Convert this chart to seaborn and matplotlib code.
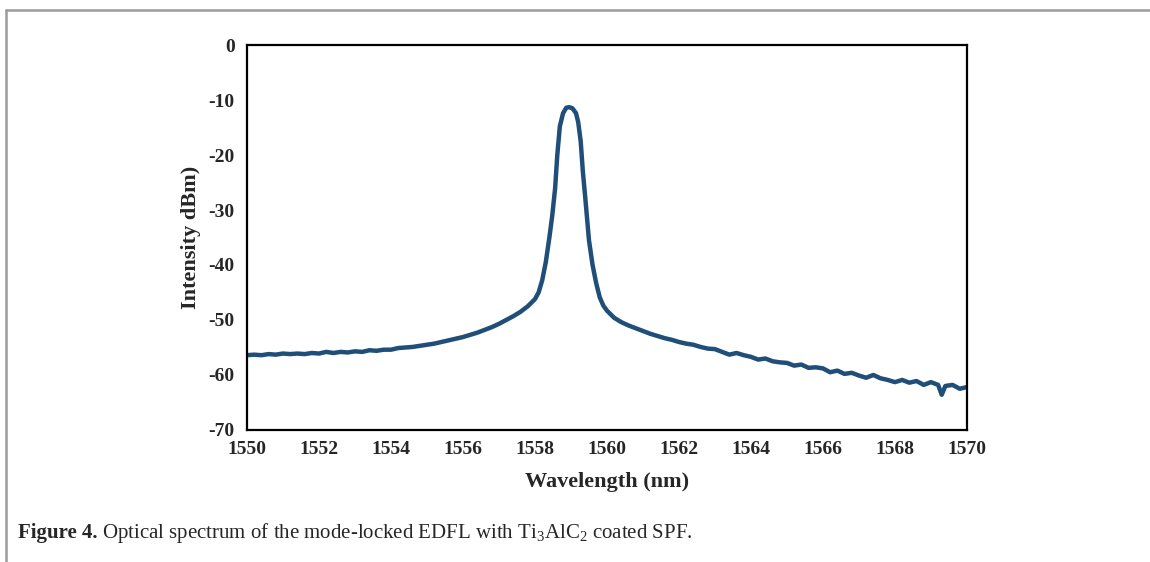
import numpy as np
import pandas as pd
import matplotlib
matplotlib.use("Agg")
import matplotlib.pyplot as plt
from matplotlib.lines import Line2D
import seaborn as sns

# spectrum (nm, dBm)
wavelength = [
    1550.0, 1550.2, 1550.4, 1550.6, 1550.8, 1551.0, 1551.2, 1551.4, 1551.6, 1551.8,
    1552.0, 1552.2, 1552.4, 1552.6, 1552.8, 1553.0, 1553.2, 1553.4, 1553.6, 1553.8,
    1554.0, 1554.2, 1554.4, 1554.6, 1554.8, 1555.0, 1555.2, 1555.4, 1555.6, 1555.8,
    1556.0, 1556.2, 1556.4, 1556.6, 1556.8, 1557.0, 1557.2, 1557.4, 1557.6, 1557.8,
    1558.0, 1558.1, 1558.2, 1558.3, 1558.4, 1558.48, 1558.56, 1558.62, 1558.69, 1558.78,
    1558.87, 1558.95, 1559.04, 1559.14, 1559.2, 1559.27, 1559.33, 1559.4, 1559.5, 1559.6,
    1559.7, 1559.8, 1559.9,
    1560.0, 1560.2, 1560.4, 1560.6, 1560.8, 1561.0, 1561.2, 1561.4, 1561.6, 1561.8,
    1562.0, 1562.2, 1562.4, 1562.6, 1562.8, 1563.0, 1563.2, 1563.4, 1563.6, 1563.8,
    1564.0, 1564.2, 1564.4, 1564.6, 1564.8, 1565.0, 1565.2, 1565.4, 1565.6, 1565.8,
    1566.0, 1566.2, 1566.4, 1566.6, 1566.8, 1567.0, 1567.2, 1567.4, 1567.6, 1567.8,
    1568.0, 1568.2, 1568.4, 1568.6, 1568.8, 1569.0, 1569.2, 1569.3, 1569.4, 1569.6,
    1569.8, 1570.0,
]
intensity = [
    -56.4, -56.3, -56.4, -56.2, -56.3, -56.1, -56.2, -56.1, -56.2, -56.0,
    -56.1, -55.8, -56.0, -55.8, -55.9, -55.7, -55.8, -55.5, -55.6, -55.4,
    -55.4, -55.1, -55.0, -54.9, -54.7, -54.5, -54.3, -54.0, -53.7, -53.4,
    -53.1, -52.7, -52.3, -51.8, -51.3, -50.7, -50.0, -49.3, -48.5, -47.5,
    -46.2, -45.0, -42.8, -39.5, -35.0, -31.0, -26.0, -20.0, -14.8, -12.4,
    -11.4, -11.3, -11.5, -12.4, -14.0, -17.5, -23.0, -28.0, -35.5, -40.0,
    -43.3, -45.9, -47.4,
    -48.3, -49.6, -50.4, -51.0, -51.5, -52.0, -52.5, -52.9, -53.3, -53.6,
    -54.0, -54.3, -54.5, -54.9, -55.2, -55.3, -55.8, -56.3, -56.0, -56.4,
    -56.7, -57.2, -57.0, -57.5, -57.7, -57.8, -58.3, -58.1, -58.7, -58.6,
    -58.8, -59.5, -59.2, -59.8, -59.6, -60.1, -60.5, -60.0, -60.6, -60.9,
    -61.3, -60.9, -61.4, -61.1, -61.8, -61.3, -61.8, -63.6, -62.0, -61.8,
    -62.5, -62.2,
]
x_ticks = [1550, 1552, 1554, 1556, 1558, 1560, 1562, 1564, 1566, 1568, 1570]
y_ticks = [0, -10, -20, -30, -40, -50, -60, -70]

df = pd.DataFrame({"wavelength": wavelength, "intensity": intensity})

sns.set_style("white")
plt.rcParams["font.family"] = ["Liberation Serif", "DejaVu Serif"]
plt.rcParams["axes.unicode_minus"] = False
plt.rcParams["mathtext.fontset"] = "custom"
plt.rcParams["mathtext.rm"] = "Liberation Serif"
plt.rcParams["mathtext.default"] = "regular"

fig = plt.figure(figsize=(11.5, 5.62), dpi=100)
ax = fig.add_axes([0.2148, 0.2349, 0.626, 0.685])

sns.lineplot(data=df, x="wavelength", y="intensity", color="#1f4e79",
             linewidth=3.2, ax=ax)

ax.set_xlim(1550, 1570)
ax.set_ylim(-70, 0)
ax.set_xticks(x_ticks)
ax.set_yticks(y_ticks)
ax.set_xticklabels([str(t) for t in x_ticks], fontsize=14, fontweight="bold")
ax.set_yticklabels([str(t) for t in y_ticks], fontsize=14, fontweight="bold")

for s in ax.spines.values():
    s.set_visible(True)
    s.set_color("black")
    s.set_linewidth(1.6)

ax.tick_params(axis="x", direction="in", length=5, width=1.6, pad=8)
ax.tick_params(axis="y", direction="out", length=5, width=1.6, pad=4)

ax.set_xlabel("Wavelength (nm)", fontsize=16, fontweight="bold", labelpad=10)
ax.set_ylabel("Intensity dBm)", fontsize=16, fontweight="bold", labelpad=5)

# page frame
fig.add_artist(Line2D([0.005, 1.0], [0.982, 0.982], color="#9a9a9a", linewidth=1.8))
fig.add_artist(Line2D([0.0055, 0.0055], [0.0, 0.982], color="#9a9a9a", linewidth=1.8))

# caption
fig.text(0.016, 0.043, "Figure 4.", fontsize=15, fontweight="bold", va="baseline")
fig.text(0.0885, 0.043, "Optical spectrum of the mode-locked EDFL with Ti$_3$AlC$_2$ coated SPF.",
         fontsize=15, va="baseline")

fig.savefig("out.png", dpi=100)
